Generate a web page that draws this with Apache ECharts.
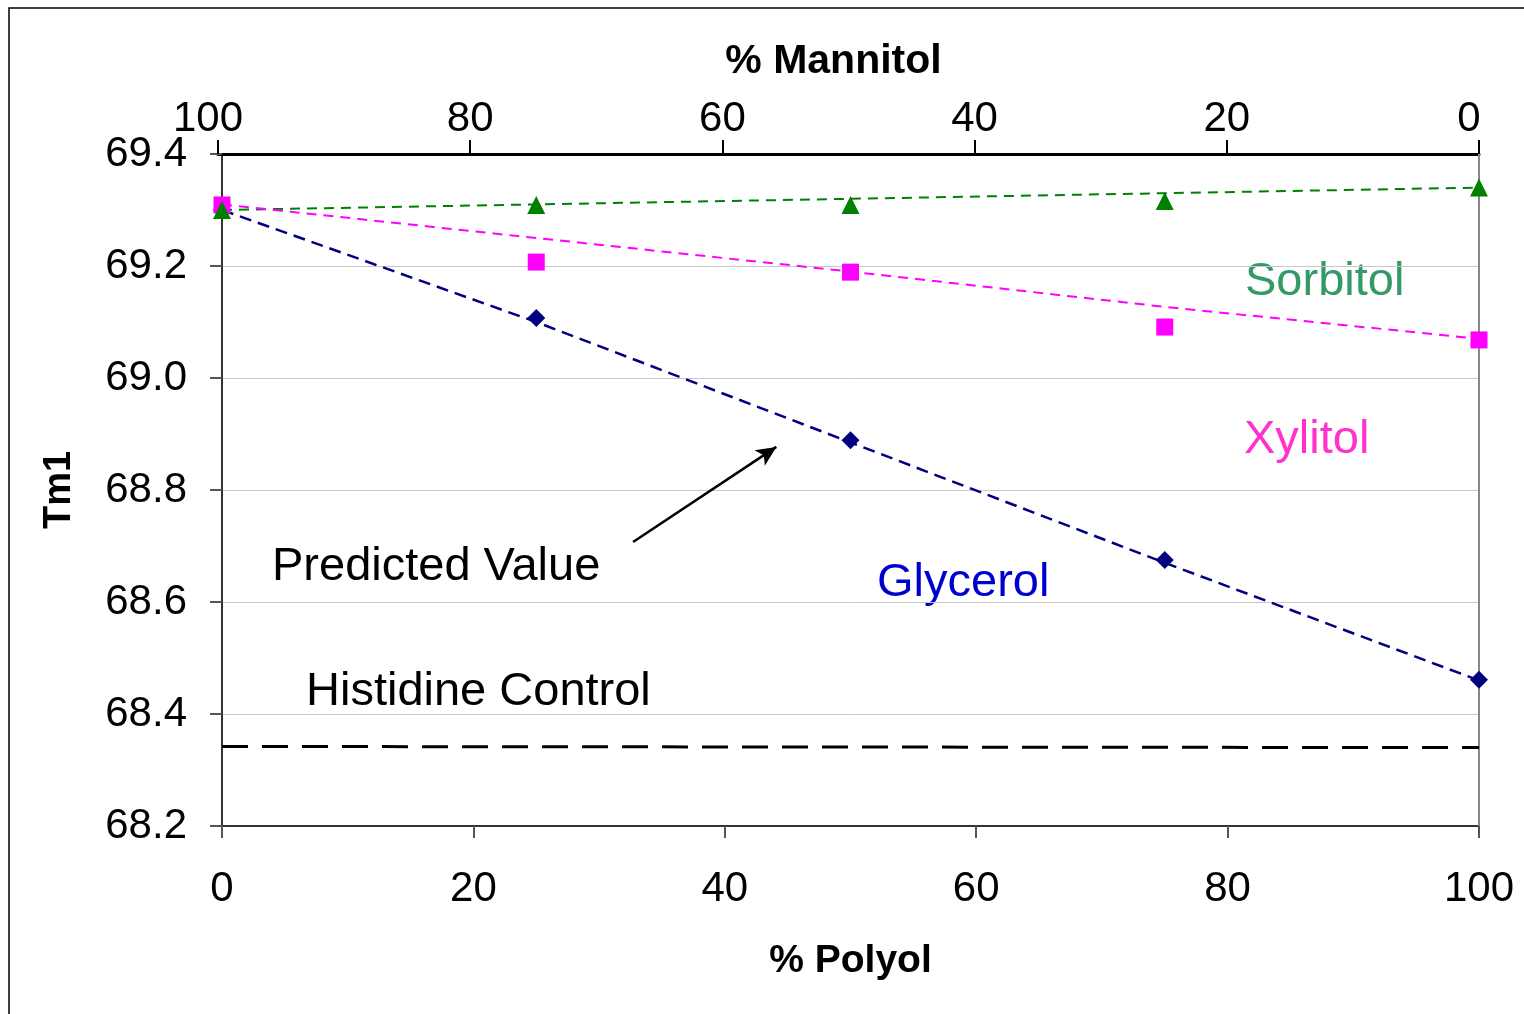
<!DOCTYPE html>
<html><head><meta charset="utf-8">
<script src="https://cdn.jsdelivr.net/npm/echarts@6/dist/echarts.min.js"></script>
<style>html,body{margin:0;padding:0;background:#fff}#c{width:1524px;height:1014px}</style>
</head><body><div id="c"></div>
<script>
const polyolPct = [0, 25, 50, 75, 100];
const glycerol = [69.30, 69.107, 68.889, 68.675, 68.461];
const xylitol = [69.309, 69.207, 69.189, 69.091, 69.068];
const sorbitol = [69.30, 69.309, 69.309, 69.316, 69.34];
const glycerolPred = [69.30, 69.10, 68.885, 68.67, 68.46];
const xylitolPred = [69.31, 69.25, 69.19, 69.127, 69.07];
const sorbitolPred = [69.30, 69.31, 69.32, 69.33, 69.34];
const controlX = [0, 100];
const controlY = [68.342, 68.340];
const arrowFrom = [32.7, 68.707];
const arrowTo = [44.1, 68.877];

const pairs = (xs, ys) => xs.map((x, i) => [x, ys[i]]);
const FONT = 'Liberation Sans, Arial, sans-serif';
const chart = echarts.init(document.getElementById('c'));
const predLine = (name, data, color, w, dash) => ({
  name, type: 'line', data: pairs(polyolPct, data), symbol: 'none', z: 2,
  lineStyle: {color, width: w, type: dash}, silent: true
});
const scat = (name, data, color, symbol, size) => ({
  name, type: 'scatter', data: pairs(polyolPct, data), symbol, symbolSize: size, z: 3,
  itemStyle: {color, opacity: 1}
});
chart.setOption({
  animation: false,
  backgroundColor: '#fff',
  grid: [
    {left: 222, right: 45, top: 154, bottom: 188},
    {left: 218, right: 45, top: 154, bottom: 188}
  ],
  xAxis: [
    {type: 'value', gridIndex: 0, min: 0, max: 100, interval: 20, position: 'bottom',
     name: '% Polyol', nameLocation: 'middle', nameGap: 116,
     nameTextStyle: {fontFamily: FONT, fontSize: 39, fontWeight: 'bold', color: '#000'},
     axisLine: {show: true, lineStyle: {color: '#333', width: 2}},
     axisTick: {show: true, inside: false, length: 12, lineStyle: {color: '#555', width: 2}},
     axisLabel: {fontFamily: FONT, fontSize: 42, color: '#000', margin: 42},
     splitLine: {show: false}},
    {type: 'value', gridIndex: 1, min: 0, max: 100, interval: 20, position: 'top', inverse: true,
     name: '% Mannitol', nameLocation: 'middle', nameGap: 72,
     nameTextStyle: {fontFamily: FONT, fontSize: 41, fontWeight: 'bold', color: '#000', padding: [0, 30, 0, 0]},
     axisLine: {show: true, lineStyle: {color: '#000', width: 3}},
     axisTick: {show: true, inside: false, length: 14, lineStyle: {color: '#000', width: 2}},
     axisLabel: {fontFamily: FONT, fontSize: 42, color: '#000', margin: 14,
       formatter: v => (v === 100 || v === 0) ? '{s|' + v + '}' : String(v),
       rich: {s: {fontFamily: FONT, fontSize: 42, color: '#000', padding: [0, 20, 0, 0]}}},
     splitLine: {show: false}}
  ],
  yAxis: [
    {type: 'value', gridIndex: 0, min: 68.2, max: 69.4, interval: 0.2,
     name: 'Tm1', nameLocation: 'middle', nameGap: 143, nameRotate: 90,
     nameTextStyle: {fontFamily: FONT, fontSize: 38, fontWeight: 'bold', color: '#000'},
     axisLine: {show: true, lineStyle: {color: '#333', width: 2}},
     axisTick: {show: true, length: 12, lineStyle: {color: '#555', width: 2}},
     axisLabel: {fontFamily: FONT, fontSize: 42, color: '#000', margin: 35, formatter: v => v.toFixed(1)},
     splitLine: {show: true, lineStyle: {color: '#c8c8c8', width: 1}}},
    {type: 'value', gridIndex: 1, min: 68.2, max: 69.4, show: false}
  ],
  series: [
    predLine('Sorbitol predicted', sorbitolPred, '#008000', 2, [10, 7]),
    predLine('Xylitol predicted', xylitolPred, '#ff00ff', 2, [10, 7]),
    predLine('Glycerol predicted', glycerolPred, '#000080', 2.5, [12, 7]),
    {name: 'Histidine Control', type: 'line', data: pairs(controlX, controlY), symbol: 'none', z: 2,
     lineStyle: {color: '#000', width: 3, type: [26, 14]},
     markLine: {silent: true, symbol: ['none', 'arrow'], symbolSize: [14, 20], label: {show: false},
       lineStyle: {color: '#000', width: 2.5, type: 'solid'},
       data: [[{coord: arrowFrom}, {coord: arrowTo}]]}},
    scat('Glycerol', glycerol, '#000080', 'diamond', 18),
    scat('Xylitol', xylitol, '#ff00ff', 'rect', 17),
    scat('Sorbitol', sorbitol, '#008000', 'triangle', 18)
  ],
  graphic: [
    {type: 'rect', shape: {x: 9, y: 8, width: 1560, height: 1060}, style: {fill: 'none', stroke: '#000', lineWidth: 1.5}, silent: true},
    {type: 'line', shape: {x1: 1479, y1: 154, x2: 1479, y2: 826}, style: {stroke: '#888', lineWidth: 2}, z: 1},
    {type: 'text', x: 1245, y: 282, style: {text: 'Sorbitol', font: '47px ' + FONT, fill: '#339966', textVerticalAlign: 'middle'}},
    {type: 'text', x: 1244, y: 440, style: {text: 'Xylitol', font: '47px ' + FONT, fill: '#ff33cc', textVerticalAlign: 'middle'}},
    {type: 'text', x: 877, y: 583, style: {text: 'Glycerol', font: '47px ' + FONT, fill: '#0000cc', textVerticalAlign: 'middle'}},
    {type: 'text', x: 272, y: 567, style: {text: 'Predicted Value', font: '47px ' + FONT, fill: '#000', textVerticalAlign: 'middle'}},
    {type: 'text', x: 306, y: 692, style: {text: 'Histidine Control', font: '47px ' + FONT, fill: '#000', textVerticalAlign: 'middle'}}
  ]
});
</script></body></html>
